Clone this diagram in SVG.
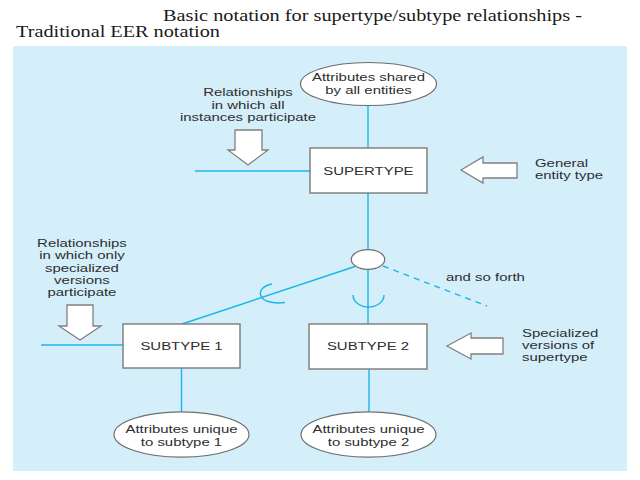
<svg xmlns="http://www.w3.org/2000/svg" width="640" height="480" viewBox="0 0 640 480">
<style>
.title{font-family:"Liberation Serif","Times New Roman",serif;font-size:16px;fill:#1a1a1a}
.t{font-family:"Liberation Sans",Arial,sans-serif;font-size:11.5px;fill:#2e2e2e;transform-box:fill-box;transform:scaleX(1.3)}
.c{text-anchor:middle;transform-origin:center}
.l{text-anchor:start;transform-origin:left center}
.box{fill:#fff;stroke:#7a7a7a;stroke-width:1.4}
.ell{fill:#fff;stroke:#6e6e6e;stroke-width:1.2}
.arrow{fill:#fff;stroke:#808080;stroke-width:1.3;stroke-linejoin:miter}
.ln{stroke:#1cb5ea;stroke-width:1.4;fill:none}
.dash{stroke-dasharray:6 5}
</style>
<rect width="640" height="480" fill="#fff"/>
<text class="title" x="163" y="21" textLength="419" lengthAdjust="spacingAndGlyphs">Basic notation for supertype/subtype relationships -</text>
<text class="title" x="16" y="37" textLength="204" lengthAdjust="spacingAndGlyphs">Traditional EER notation</text>
<rect x="13" y="46" width="614" height="425" fill="#d4eefa"/>

<g id="connectors">
<line class="ln" x1="368" y1="105.5" x2="368" y2="148"/>
<line class="ln" x1="368" y1="193" x2="368" y2="250"/>
<line class="ln" x1="195" y1="171" x2="310" y2="171"/>
<line class="ln" x1="368" y1="269.5" x2="368" y2="324"/>
<line class="ln" x1="355" y1="266.5" x2="182" y2="324"/>
<line class="ln dash" x1="383" y1="266" x2="487" y2="306"/>
<path class="ln" d="M353 295 A15.5 12 0 0 0 384 295"/>
<path class="ln" d="M272 284 C254 287 256 306 285 302.5"/>
<line class="ln" x1="41" y1="345" x2="123" y2="345"/>
<line class="ln" x1="181.5" y1="368" x2="181.5" y2="412"/>
<line class="ln" x1="369" y1="369" x2="369" y2="412"/>
</g>

<g id="attr-shared">
<ellipse class="ell" cx="368.5" cy="84" rx="68" ry="21.5"/>
<text class="t c" y="81.5"><tspan x="368.5">Attributes shared</tspan><tspan x="368.5" y="94">by all entities</tspan></text>
</g>

<g id="note-all">
<text class="t c" y="96.5"><tspan x="248">Relationships</tspan><tspan x="248" y="109">in which all</tspan><tspan x="248" y="121.5">instances participate</tspan></text>
<polygon class="arrow" points="235,130 262,130 262,150 268,150 248,165 228,150 235,150"/>
</g>

<g id="supertype">
<rect class="box" x="310" y="148" width="117" height="45"/>
<text class="t c" x="368.5" y="175">SUPERTYPE</text>
</g>

<g id="note-general">
<polygon class="arrow" points="461,170 483,157 483,163 517,163 517,178 483,178 483,183"/>
<text class="t l" y="167"><tspan x="535">General</tspan><tspan x="535" y="179.5">entity type</tspan></text>
</g>

<g id="isa-circle">
<ellipse class="ell" cx="368" cy="259.5" rx="16.7" ry="9.8"/>
</g>

<g id="note-more">
<text class="t l" x="446" y="281">and so forth</text>
</g>

<g id="note-specialized">
<text class="t c" y="247"><tspan x="82">Relationships</tspan><tspan x="82" y="259.3">in which only</tspan><tspan x="82" y="271.6">specialized</tspan><tspan x="82" y="283.9">versions</tspan><tspan x="82" y="296">participate</tspan></text>
<polygon class="arrow" points="67,305 93,305 93,326 101,326 80,340 59,326 67,326"/>
</g>

<g id="subtype1">
<rect class="box" x="123" y="324" width="117" height="44"/>
<text class="t c" x="181.5" y="350">SUBTYPE 1</text>
</g>

<g id="subtype2">
<rect class="box" x="309" y="324" width="118" height="45"/>
<text class="t c" x="368" y="350.5">SUBTYPE 2</text>
</g>

<g id="note-versions">
<polygon class="arrow" points="447,346 471,333 471,338 503,338 503,354 471,354 471,359"/>
<text class="t l" y="337"><tspan x="522">Specialized</tspan><tspan x="522" y="349">versions of</tspan><tspan x="522" y="361">supertype</tspan></text>
</g>

<g id="attr-sub1">
<ellipse class="ell" cx="181.5" cy="434.5" rx="67.5" ry="22.7"/>
<text class="t c" y="433.5"><tspan x="181.5">Attributes unique</tspan><tspan x="181.5" y="446.5">to subtype 1</tspan></text>
</g>

<g id="attr-sub2">
<ellipse class="ell" cx="368.5" cy="434.5" rx="67.5" ry="22.7"/>
<text class="t c" y="433.5"><tspan x="368.5">Attributes unique</tspan><tspan x="368.5" y="446.5">to subtype 2</tspan></text>
</g>
</svg>
